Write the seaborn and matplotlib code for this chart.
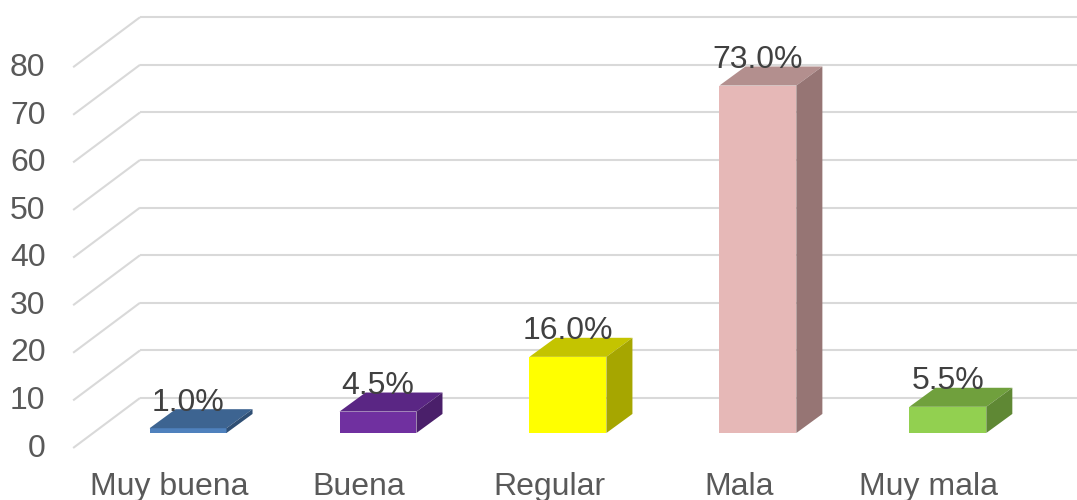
import numpy as np
import pandas as pd
import matplotlib
matplotlib.use("Agg")
import matplotlib.pyplot as plt
import seaborn as sns
from matplotlib.patches import Polygon

categories = ["Muy buena", "Buena", "Regular", "Mala", "Muy mala"]
values = [1.0, 4.5, 16.0, 73.0, 5.5]
y_ticks = [0, 10, 20, 30, 40, 50, 60, 70, 80]

front_colors = ["#4F81BD", "#7030A0", "#FFFF00", "#E6B8B7", "#92D050"]
top_colors = ["#3D6491", "#5A2684", "#C4C400", "#B38F8E", "#70A03D"]
side_colors = ["#2F4F74", "#4A1F6A", "#A6A600", "#967574", "#5F8834"]

# 3d look: depth offset in data units
dx, dy = 0.137, 4.0
front_off, back_off = -3.15, 7.35
grid_front_x, grid_back_x = -0.605, -0.253

sns.set_style("white")
plt.rcParams["font.family"] = ["Liberation Sans", "DejaVu Sans"]

fig = plt.figure(figsize=(10.77, 5), dpi=100)
ax = fig.add_axes([0, 0, 1, 1])

df = pd.DataFrame({"cat": categories, "val": values})
sns.barplot(data=df, x="cat", y="val", hue="cat", palette=front_colors,
            width=0.405, legend=False, ax=ax, zorder=3, saturation=1,
            linewidth=0, edgecolor="none")

# gridlines: diagonal on the side + horizontal on the back wall
for v in y_ticks:
    ax.plot([grid_front_x, grid_back_x], [v + front_off, v + back_off],
            color="#D9D9D9", lw=1.5, zorder=0, solid_capstyle="butt")
    ax.plot([grid_back_x, 5], [v + back_off, v + back_off],
            color="#D9D9D9", lw=1.5, zorder=0, solid_capstyle="butt")
    ax.text(-0.75, v - 3.3, str(v), ha="right", va="center",
            fontsize=23, color="#595959")

# top and side faces of every bar
for i, p in enumerate(ax.patches):
    x0 = p.get_x()
    x1 = x0 + p.get_width()
    h = p.get_height()
    top = Polygon([(x0, h), (x1, h), (x1 + dx, h + dy), (x0 + dx, h + dy)],
                  closed=True, facecolor=top_colors[i], edgecolor="none", zorder=3)
    side = Polygon([(x1, 0), (x1 + dx, dy), (x1 + dx, h + dy), (x1, h)],
                   closed=True, facecolor=side_colors[i], edgecolor="none", zorder=3)
    ax.add_patch(top)
    ax.add_patch(side)
    ax.text(x0 + p.get_width() / 2, h + 3.7, f"{values[i]:.1f}%",
            ha="center", va="baseline", fontsize=23, color="#404040", zorder=5)

for i, c in enumerate(categories):
    ax.text(i - 0.1, -11.3, c, ha="center", va="center",
            fontsize=23, color="#595959")

ax.set_xlim(-0.99, 4.68)
ax.set_ylim(-14.08, 90.97)
ax.set_axis_off()

fig.savefig("out.png", dpi=100)
